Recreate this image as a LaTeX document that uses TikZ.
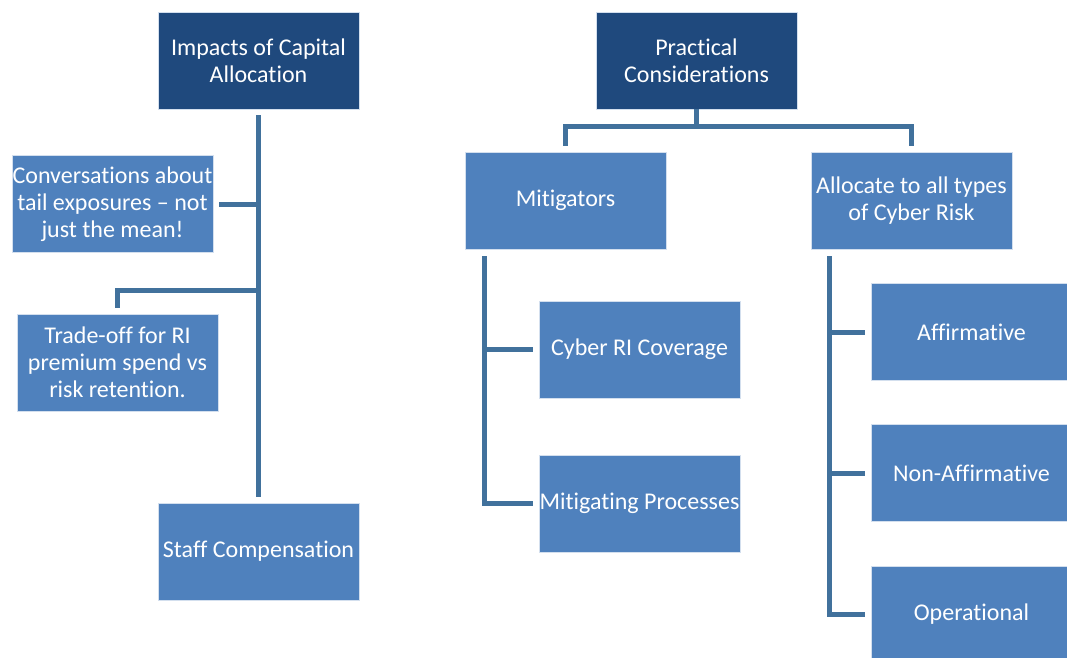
\documentclass[tikz,border=0pt]{standalone}
\usepackage{fontspec}
\setmainfont{Carlito}[Ligatures=NoCommon]
\definecolor{darkbox}{HTML}{1F497D}
\definecolor{lightbox}{HTML}{4F81BD}
\definecolor{linkblue}{HTML}{41719C}
\begin{document}
\begin{tikzpicture}[x=1pt,y=-1pt,
  box/.style={fill=lightbox,draw=white!75!lightbox,line width=0.8pt,text=white,
    minimum width=201pt,minimum height=97pt,align=center,inner sep=0pt,
    font=\fontsize{24}{27}\selectfont},
  topbox/.style={box,fill=darkbox},
  link/.style={draw=linkblue,line width=5pt}]
\clip (0,0) rectangle (1067,657);
%%\draw[help lines] (0,0) grid[step=50] (1067,657);
% left tree
\node [topbox] (impacts) at (258.5,60.5) {Impacts of Capital\\Allocation};
\node [box] (talk) at (112.5,204) {Conversations about\\tail exposures -- not\\just the mean!};
\node [box] (tradeoff) at (117.5,362.5) {Trade-off for RI\\premium spend vs\\risk retention.};
\node [box] (staff) at (258.5,551.5) {Staff Compensation};
\coordinate (tradeknee) at (117.5,290);
\draw [link, shorten <=6pt, shorten >=6pt] (impacts.south) -- (staff.north);
\draw [link, shorten <=6pt] (talk.east) -- (talk.east -| impacts.south);
\draw [link, shorten <=6pt] (tradeoff.north) -- (tradeknee) -- (tradeknee -| impacts.south);
% right tree
\node [topbox] (practical) at (696.5,60.5) {Practical\\Considerations};
\node [box] (mitig) at (565.5,200.5) {Mitigators};
\node [box] (alloc) at (911.5,200.5) {Allocate to all types\\of Cyber Risk};
\node [box] (cyberri) at (639.5,349.5) {Cyber RI Coverage};
\node [box] (mproc) at (639.5,503.5) {Mitigating Processes};
\node [box] (affirm) at (971.5,332) {Affirmative};
\node [box] (nonaffirm) at (971.5,473) {Non-Affirmative};
\node [box] (operat) at (971.5,614.5) {Operational};
\coordinate (pbus) at (696.5,126);
\coordinate (mtop) at (484,256);
\coordinate (atop) at (829,256);
\draw [link] (practical.south) -- (pbus);
\draw [link, shorten <=6pt, shorten >=6pt] (mitig.north) |- (pbus) -| (alloc.north);
\draw [link, shorten >=6pt] (mtop) |- (cyberri.west);
\draw [link, shorten >=6pt] (mtop) |- (mproc.west);
\draw [link, shorten >=6pt] (atop) |- (affirm.west);
\draw [link, shorten >=6pt] (atop) |- (nonaffirm.west);
\draw [link, shorten >=6pt] (atop) |- (operat.west);
\end{tikzpicture}
\end{document}
